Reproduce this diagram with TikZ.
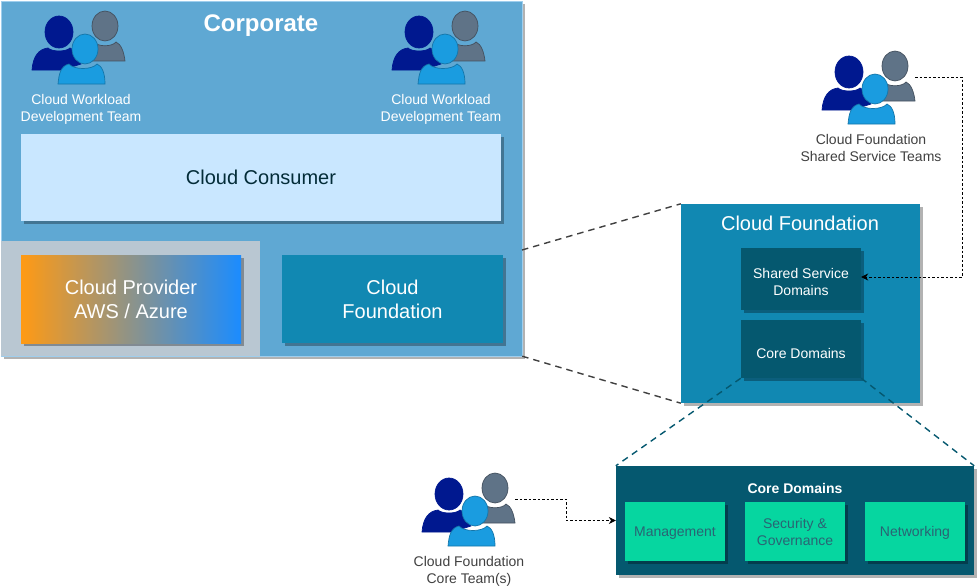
\documentclass[tikz,border=0pt]{standalone}
\usepackage{fontspec}
\setmainfont{Liberation Sans}
\usetikzlibrary{shadows,arrows.meta}
\definecolor{corpblue}{HTML}{5FA8D3}
\definecolor{consumerblue}{HTML}{C9E7FF}
\definecolor{foundteal}{HTML}{1188B2}
\definecolor{deepteal}{HTML}{05586F}
\definecolor{coregreen}{HTML}{06D6A0}
\definecolor{graypanel}{HTML}{B9C7D2}
\definecolor{persondark}{HTML}{00188F}
\definecolor{persongray}{HTML}{5F7387}
\definecolor{personblue}{HTML}{1A9CE0}
\definecolor{cloudorange}{HTML}{FF9A14}
\definecolor{cloudblue}{HTML}{1B8CFF}
\tikzset{
  panel/.style={inner sep=0pt,align=center,drop shadow={shadow xshift=3pt,shadow yshift=-3pt,opacity=.3,fill=black}},
  teamlabel/.style={align=center,font=\fontsize{14}{17}\selectfont},
  zoomline/.style={line width=1.4pt,dash pattern=on 6.5pt off 5pt,black!75},
  coreline/.style={line width=1.4pt,dash pattern=on 6.5pt off 5pt,deepteal},
  ownerline/.style={line width=.8pt,dash pattern=on 2.5pt off 2pt,-{Stealth[length=7pt,width=7pt]}},
  teampic/.pic={
    \draw[fill=persongray,draw=persongray!70!black,line width=.7pt] (50,50) .. controls (52,38) and (56,33) .. (62,31) .. controls (66,36) and (80,36) .. (84,31) .. controls (89,33) and (92,41) .. (93,50) -- cycle;
    \draw[fill=persongray,draw=persongray!70!black,line width=.7pt] (73,15) ellipse (13 and 15);
    \draw[fill=persondark,draw=persondark,line width=.7pt] (0,59) .. controls (1,45) and (7,38) .. (16,37) .. controls (20,41) and (34,41) .. (38,37) .. controls (42,38) and (46,44) .. (49,53) -- (30,59) -- cycle;
    \draw[fill=persondark,draw=persondark,line width=.7pt] (27,21) ellipse (14 and 16);
    \draw[fill=personblue,draw=personblue!75!black,line width=.7pt] (26,73) .. controls (27,62) and (29,55) .. (37,53) .. controls (42,59) and (60,59) .. (65,53) .. controls (70,55) and (73,62) .. (73,73) -- cycle;
    \draw[fill=personblue,draw=personblue!75!black,line width=.7pt] (53,38) ellipse (13 and 15);
    \coordinate (-out) at (93,26);
  }
}
\begin{document}
\begin{tikzpicture}[x=1pt,y=-1pt]
\useasboundingbox (0,0) rectangle (979,586);
\node[panel,fill=corpblue,draw=consumerblue!60!corpblue,minimum width=521pt,minimum height=355pt] (corp) at (261.5,178.5) {};
\fill[graypanel] (1,241) rectangle (260,356);
\node[white,font=\bfseries\fontsize{24}{28}\selectfont] (corptitle) at (261,26) {Corporate};
\pic (teamA) at (32,11) {teampic};
\pic (teamB) at (392,11) {teampic};
\node[teamlabel,white] (teamAlabel) at (81,109.5) {Cloud Workload\\Development Team};
\node[teamlabel,white] (teamBlabel) at (441,109.5) {Cloud Workload\\Development Team};
\node[panel,fill=consumerblue,minimum width=480pt,minimum height=87pt,text=deepteal!50!black,font=\fontsize{20}{24}\selectfont] (consumer) at (261,177.5) {Cloud Consumer};
\node[panel,left color=cloudorange,right color=cloudblue,minimum width=220pt,minimum height=88pt,text=white,font=\fontsize{20}{24}\selectfont] (provider) at (131,299) {Cloud Provider\\AWS / Azure};
\node[panel,fill=foundteal,minimum width=221pt,minimum height=88pt,text=white,font=\fontsize{20}{24}\selectfont] (cfsmall) at (392.5,299) {Cloud\\Foundation};

\node[panel,fill=foundteal,minimum width=239pt,minimum height=199pt] (cf) at (800.5,303.5) {};
\node[white,font=\fontsize{20}{24}\selectfont] (cftitle) at (800,223) {Cloud Foundation};
\node[panel,fill=deepteal,minimum width=120pt,minimum height=62pt] (shared) at (801,279) {};
\node[white,align=center,font=\fontsize{14}{17}\selectfont] (sharedtext) at (801,282) {Shared Service\\Domains};
\node[panel,fill=deepteal,minimum width=120pt,minimum height=58pt] (core) at (801,349) {};
\node[white,font=\fontsize{14}{17}\selectfont] (coretext) at (801,353) {Core Domains};

\node[panel,fill=deepteal,minimum width=358pt,minimum height=109pt] (coredetail) at (795,520.5) {};
\node[white,font=\bfseries\fontsize{14}{17}\selectfont] (coretitle) at (795,488) {Core Domains};
\node[panel,fill=coregreen,minimum width=100pt,minimum height=59pt,text depth=0pt,text=deepteal!70!gray,font=\fontsize{14}{17}\selectfont] (mgmt) at (675,531.5) {Management};
\node[panel,fill=coregreen,minimum width=100pt,minimum height=59pt,text=deepteal!70!gray,font=\fontsize{14}{17}\selectfont] (secgov) at (795,531.5) {Security \&\\Governance};
\node[panel,fill=coregreen,minimum width=100pt,minimum height=59pt,text depth=0pt,text=deepteal!70!gray,font=\fontsize{14}{17}\selectfont] (netw) at (915,531.5) {Networking};

\pic (teamC) at (822,51) {teampic};
\node[teamlabel,text=black!75] (teamClabel) at (871,147.5) {Cloud Foundation\\Shared Service Teams};
\pic (teamD) at (422,473) {teampic};
\node[teamlabel,text=black!75] (teamDlabel) at (469,571.5) {Cloud Foundation\\Core Team(s)};

\coordinate (corpedge) at (522,250);
\draw[zoomline] (corpedge) -- (cf.north west);
\draw[zoomline] (corp.south east) -- (cf.south west);
\draw[coreline] (core.south west) -- (coredetail.north west);
\draw[coreline] (core.south east) -- (coredetail.north east);
\draw[ownerline] (teamC-out) -- ++(47,0) |- ([yshift=2pt]shared.east);
\draw[ownerline] (teamD-out) -- ++(51,0) |- (coredetail.west);
\end{tikzpicture}
\end{document}
